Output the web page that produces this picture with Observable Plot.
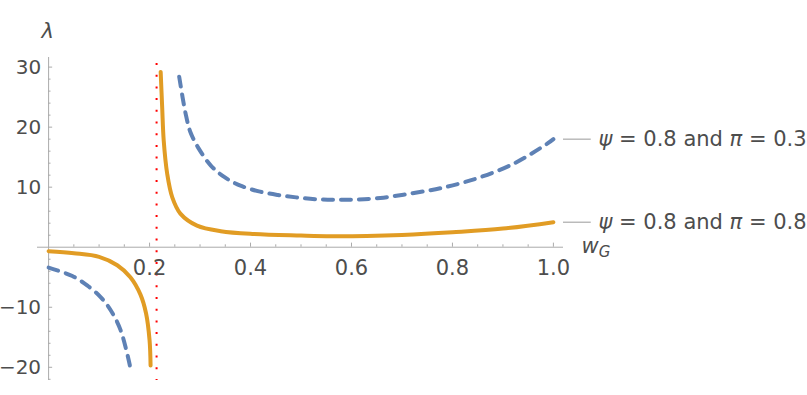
<!DOCTYPE html>
<html><head><meta charset="utf-8">
<script src="https://cdn.jsdelivr.net/npm/d3@7"></script>
<script src="https://cdn.jsdelivr.net/npm/@observablehq/plot@0.6"></script>
<style>body{margin:0;background:#fff;} svg{overflow:visible;}</style>
</head><body><div id="chart"></div>
<script>
const seriesLabels = ["ψ = 0.8 and π = 0.3", "ψ = 0.8 and π = 0.8"];
const asymptoteW = 0.2139;

const wBlueLeft = [0, 0.047, 0.077, 0.103, 0.123, 0.143, 0.161];
const lambdaBlueLeft = [-3.4, -4.8, -6.4, -8.3, -10.5, -13.9, -19.7];
const wBlueRight = [0.2587, 0.2713, 0.2812, 0.2984, 0.3214, 0.3479, 0.3788, 0.4165, 0.4541, 0.4904, 0.5287, 0.57, 0.61, 0.657, 0.703, 0.75, 0.783, 0.816, 0.855, 0.921, 0.987, 1.0];
const lambdaBlueRight = [28.4, 22.3, 19.1, 16.3, 13.6, 11.7, 10.3, 9.3, 8.7, 8.3, 8.0, 7.9, 7.95, 8.2, 8.75, 9.4, 9.95, 10.65, 11.65, 13.9, 17.2, 18.0];

const wOrangeLeft = [0, 0.05, 0.1, 0.136, 0.162, 0.182, 0.193, 0.2, 0.202];
const lambdaOrangeLeft = [-0.67, -1.0, -1.6, -3.0, -5.0, -7.9, -11.0, -15.5, -19.7];
const wOrangeRight = [0.222, 0.225, 0.228, 0.235, 0.245, 0.261, 0.294, 0.341, 0.407, 0.5, 0.56, 0.63, 0.7, 0.8, 0.9, 1.0];
const lambdaOrangeRight = [29.2, 23.3, 17.8, 12.2, 8.3, 5.6, 3.6, 2.67, 2.2, 1.95, 1.84, 1.88, 2.05, 2.5, 3.1, 4.17];

const xTicks = [0.2, 0.4, 0.6, 0.8, 1.0];
const xTickLabels = ["0.2", "0.4", "0.6", "0.8", "1.0"];
const xMinorTicks = [0.05, 0.1, 0.15, 0.25, 0.3, 0.35, 0.45, 0.5, 0.55, 0.65, 0.7, 0.75, 0.85, 0.9, 0.95];
const yTicks = [-20, -10, 10, 20, 30];
const yTickLabels = ["−20", "−10", "10", "20", "30"];
const yMinorTicks = [-22, -18, -16, -14, -12, -8, -6, -4, -2, 2, 4, 6, 8, 12, 14, 16, 18, 22, 24, 26, 28];

const blue = "#5e81b5", orange = "#e19c24", axisColor = "#aaaaaa", textColor = "#4d4d4d";
const font = 21;

const rows = (ws, ls, branch) => ws.map((w, i) => ({w, lambda: ls[i], branch}));
const blueRows = [...rows(wBlueLeft, lambdaBlueLeft, "L"), ...rows(wBlueRight, lambdaBlueRight, "R")];
const orangeRows = [...rows(wOrangeLeft, lambdaOrangeLeft, "L"), ...rows(wOrangeRight, lambdaOrangeRight, "R")];
const legendRows = [
  {label: seriesLabels[0], lambda: lambdaBlueRight[lambdaBlueRight.length - 1]},
  {label: seriesLabels[1], lambda: lambdaOrangeRight[lambdaOrangeRight.length - 1]}
];

const chart = Plot.plot({
  width: 807, height: 395,
  marginLeft: 37, marginRight: 244, marginTop: 57, marginBottom: 15,
  x: {domain: [-0.022, 1.02], axis: null},
  y: {domain: [-22.2, 31.6], axis: null},
  style: {fontFamily: "DejaVu Sans", background: "white"},
  marks: [
    Plot.ruleY([0], {stroke: axisColor, strokeWidth: 1}),
    Plot.ruleX([0], {stroke: axisColor, strokeWidth: 1}),
    Plot.ruleX(xTicks, {x: d => d, y1: 0, y2: 0.68, stroke: axisColor}),
    Plot.ruleX(xMinorTicks, {x: d => d, y1: 0, y2: 0.4, stroke: axisColor}),
    Plot.ruleY(yTicks, {y: d => d, x1: 0, x2: 0.008, stroke: axisColor}),
    Plot.ruleY(yMinorTicks, {y: d => d, x1: 0, x2: 0.0048, stroke: axisColor}),
    Plot.line(blueRows, {x: "w", y: "lambda", z: "branch", stroke: blue, strokeWidth: 4, strokeDasharray: "10,8", curve: "catmull-rom"}),
    Plot.line(orangeRows, {x: "w", y: "lambda", z: "branch", stroke: orange, strokeWidth: 4, curve: "catmull-rom"}),
    Plot.ruleX([asymptoteW], {y1: 30.6, y2: -22.2, stroke: "#ff0000", strokeWidth: 2, strokeDasharray: "2,9.7"}),
    Plot.text(xTicks, {x: d => d, y: 0, text: (d, i) => xTickLabels[i], dy: 21, fill: textColor, fontSize: font}),
    Plot.text(yTicks, {x: 0, y: d => d, text: (d, i) => yTickLabels[i], dx: -7.5, textAnchor: "end", fill: textColor, fontSize: 20}),
    Plot.text(["λ"], {x: 0, y: 31.6, dx: -1, dy: -26, fill: textColor, fontSize: font, fontStyle: "italic"}),
    Plot.text(["wG"], {x: 1.02, y: 0, dx: 18, dy: -1, textAnchor: "start", fill: textColor, fontSize: font, fontStyle: "italic"}),
    Plot.ruleY(legendRows, {y: "lambda", x1: 1.02, x2: 1.075, stroke: "#999999", strokeWidth: 1}),
    Plot.text(legendRows, {x: 1.02, y: "lambda", text: "label", dx: 35, textAnchor: "start", fill: textColor, fontSize: font})
  ]
});

d3.select(chart).selectAll("text").each(function() {
  const t = this.textContent;
  if (t === "wG") {
    this.textContent = "w";
    d3.select(this).append("tspan").attr("font-size", 15).attr("dy", "0.3em").text("G");
  } else if (seriesLabels.includes(t)) {
    this.textContent = "";
    const parts = t.split(/([ψπ])/).filter(s => s.length);
    const sel = d3.select(this);
    parts.forEach(p => {
      const ts = sel.append("tspan").text(p);
      if (p === "ψ" || p === "π") ts.attr("font-style", "italic");
    });
  }
});

document.getElementById("chart").appendChild(chart);
</script>
</body></html>
